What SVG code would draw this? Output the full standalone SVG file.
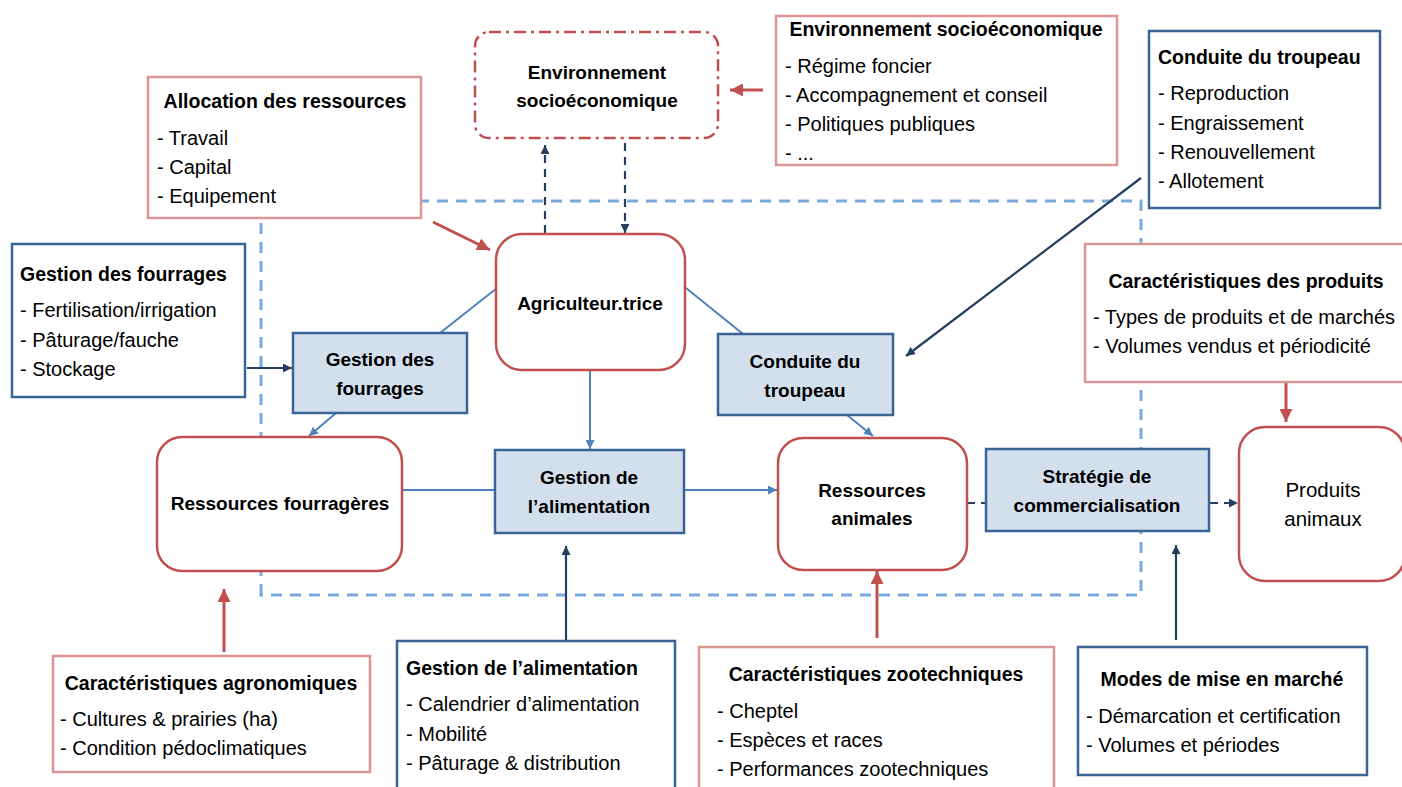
<svg xmlns="http://www.w3.org/2000/svg" width="1402" height="787" viewBox="0 0 1402 787">
<style>
.t{font-family:"Liberation Sans",Arial,sans-serif;fill:#000}
.ti{font-size:19.5px;font-weight:bold}
.it{font-size:20px}
.nl{font-size:19px;font-weight:bold;text-anchor:middle}
.infoR{fill:#fff;stroke:#d99694;stroke-width:2.5}
.infoB{fill:#fff;stroke:#3a6496;stroke-width:2.5}
.res{fill:#fff;stroke:#c0504d;stroke-width:2.5}
.proc{fill:#d3dfed;stroke:#3a6496;stroke-width:2.5}
.bl{stroke:#4f81bd;stroke-width:2;fill:none}
.nv{stroke:#243f60;stroke-width:2.2;fill:none}
.rd{stroke:#c0504d;stroke-width:3;fill:none}
</style>
<defs>
<marker id="ab" viewBox="0 0 10 10" refX="10" refY="5" markerWidth="9" markerHeight="9" markerUnits="userSpaceOnUse" orient="auto"><path d="M0,0 L10,5 L0,10 z" fill="#4f81bd"/></marker>
<marker id="an" viewBox="0 0 10 10" refX="10" refY="5" markerWidth="9" markerHeight="9" markerUnits="userSpaceOnUse" orient="auto"><path d="M0,0 L10,5 L0,10 z" fill="#243f60"/></marker>
<marker id="ar" viewBox="0 0 10 10" refX="10" refY="5" markerWidth="13" markerHeight="13" markerUnits="userSpaceOnUse" orient="auto"><path d="M0,0 L10,5 L0,10 z" fill="#c0504d"/></marker>
</defs>
<rect width="1402" height="787" fill="#fff"/>

<g id="boundary">
<path d="M261,595 L261,201 L1141,201 L1141,595 Z" fill="none" stroke="#7aaadc" stroke-width="3" stroke-dasharray="11,8"/>
</g>

<g id="connectors">
<line class="bl" x1="497" y1="288" x2="440" y2="333"/>
<line class="bl" x1="686" y1="288" x2="743" y2="334"/>
<line class="bl" x1="336" y1="413" x2="309" y2="436" marker-end="url(#ab)"/>
<line class="bl" x1="590" y1="371" x2="590" y2="449" marker-end="url(#ab)"/>
<line class="bl" x1="402" y1="490" x2="495" y2="490"/>
<line class="bl" x1="684" y1="490" x2="777" y2="490" marker-end="url(#ab)"/>
<line class="bl" x1="847" y1="415" x2="873" y2="436" marker-end="url(#ab)"/>
<line class="nv" x1="247" y1="368" x2="292" y2="368" marker-end="url(#an)"/>
<line class="nv" x1="1141" y1="178" x2="906" y2="356" marker-end="url(#an)"/>
<line class="nv" x1="566" y1="640" x2="566" y2="546" marker-end="url(#an)"/>
<line class="nv" x1="1176" y1="640" x2="1176" y2="545" marker-end="url(#an)"/>
<line class="nv" x1="545" y1="233" x2="545" y2="145" stroke-dasharray="8,6" marker-end="url(#an)"/>
<line class="nv" x1="625" y1="143" x2="625" y2="233" stroke-dasharray="8,6" marker-end="url(#an)"/>
<line class="nv" x1="967" y1="503" x2="986" y2="503" stroke-dasharray="8,6"/>
<line class="nv" x1="1210" y1="503" x2="1238" y2="503" stroke-dasharray="8,6" marker-end="url(#an)"/>
<line class="rd" x1="433" y1="222" x2="490" y2="250" marker-end="url(#ar)"/>
<line class="rd" x1="763" y1="90" x2="730" y2="90" marker-end="url(#ar)"/>
<line class="rd" x1="224" y1="652" x2="224" y2="589" marker-end="url(#ar)"/>
<line class="rd" x1="877" y1="638" x2="877" y2="571" marker-end="url(#ar)"/>
<line class="rd" x1="1286" y1="383" x2="1286" y2="422" marker-end="url(#ar)"/>
</g>

<g id="env-node">
<rect x="475" y="32" width="243" height="106" rx="14" fill="#fff" stroke="#c0504d" stroke-width="2.5" stroke-dasharray="12,5,3,5"/>
<text class="t nl" x="597" y="79">Environnement</text>
<text class="t nl" x="597" y="107">socioéconomique</text>
</g>

<g id="allocation-info">
<rect class="infoR" x="148" y="77" width="273" height="141"/>
<text class="t ti" x="285" y="108" text-anchor="middle">Allocation des ressources</text>
<text class="t it" x="157" y="145">- Travail</text>
<text class="t it" x="157" y="174">- Capital</text>
<text class="t it" x="157" y="203">- Equipement</text>
</g>

<g id="env-info">
<rect class="infoR" x="776" y="16" width="341" height="149"/>
<text class="t ti" x="946" y="36" text-anchor="middle">Environnement socioéconomique</text>
<text class="t it" x="785" y="73">- Régime foncier</text>
<text class="t it" x="785" y="102">- Accompagnement et conseil</text>
<text class="t it" x="785" y="131">- Politiques publiques</text>
<text class="t it" x="785" y="160">- ...</text>
</g>

<g id="troupeau-info">
<rect class="infoB" x="1149" y="31" width="231" height="177"/>
<text class="t ti" x="1158" y="64">Conduite du troupeau</text>
<text class="t it" x="1158" y="100">- Reproduction</text>
<text class="t it" x="1158" y="130">- Engraissement</text>
<text class="t it" x="1158" y="159">- Renouvellement</text>
<text class="t it" x="1158" y="188">- Allotement</text>
</g>

<g id="fourrages-info">
<rect class="infoB" x="12" y="244" width="233" height="153"/>
<text class="t ti" x="20" y="281">Gestion des fourrages</text>
<text class="t it" x="20" y="317">- Fertilisation/irrigation</text>
<text class="t it" x="20" y="347">- Pâturage/fauche</text>
<text class="t it" x="20" y="376">- Stockage</text>
</g>

<g id="produits-info">
<rect class="infoR" x="1085" y="244" width="322" height="138"/>
<text class="t ti" x="1246" y="288" text-anchor="middle">Caractéristiques des produits</text>
<text class="t it" x="1093" y="324">- Types de produits et de marchés</text>
<text class="t it" x="1093" y="353">- Volumes vendus et périodicité</text>
</g>

<g id="agriculteur">
<rect class="res" x="496" y="234" width="189" height="136" rx="26"/>
<text class="t nl" x="590" y="310">Agriculteur.trice</text>
</g>

<g id="gestion-fourrages">
<rect class="proc" x="293" y="333" width="174" height="80"/>
<text class="t nl" x="380" y="366">Gestion des</text>
<text class="t nl" x="380" y="395">fourrages</text>
</g>

<g id="conduite-troupeau">
<rect class="proc" x="718" y="334" width="175" height="81"/>
<text class="t nl" x="805" y="368">Conduite du</text>
<text class="t nl" x="805" y="397">troupeau</text>
</g>

<g id="ressources-fourrageres">
<rect class="res" x="157" y="437" width="245" height="134" rx="25"/>
<text class="t nl" x="280" y="510">Ressources fourragères</text>
</g>

<g id="gestion-alimentation">
<rect class="proc" x="495" y="450" width="189" height="83"/>
<text class="t nl" x="589" y="484">Gestion de</text>
<text class="t nl" x="589" y="513">l’alimentation</text>
</g>

<g id="ressources-animales">
<rect class="res" x="778" y="438" width="189" height="132" rx="25"/>
<text class="t nl" x="872" y="497">Ressources</text>
<text class="t nl" x="872" y="525">animales</text>
</g>

<g id="strategie">
<rect class="proc" x="986" y="449" width="223" height="82"/>
<text class="t nl" x="1097" y="483">Stratégie de</text>
<text class="t nl" x="1097" y="512">commercialisation</text>
</g>

<g id="produits-animaux">
<rect class="res" x="1239" y="427" width="166" height="154" rx="26"/>
<text class="t" x="1323" y="497" font-size="20.5" text-anchor="middle">Produits</text>
<text class="t" x="1323" y="526" font-size="20.5" text-anchor="middle">animaux</text>
</g>

<g id="agronomiques-info">
<rect class="infoR" x="53" y="656" width="317" height="116"/>
<text class="t ti" x="211" y="690" text-anchor="middle">Caractéristiques agronomiques</text>
<text class="t it" x="60" y="726">- Cultures &amp; prairies (ha)</text>
<text class="t it" x="60" y="755">- Condition pédoclimatiques</text>
</g>

<g id="alimentation-info">
<rect class="infoB" x="397" y="641" width="278" height="160"/>
<text class="t ti" x="406" y="675">Gestion de l’alimentation</text>
<text class="t it" x="406" y="711">- Calendrier d’alimentation</text>
<text class="t it" x="406" y="741">- Mobilité</text>
<text class="t it" x="406" y="770">- Pâturage &amp; distribution</text>
</g>

<g id="zootechniques-info">
<rect class="infoR" x="699" y="647" width="355" height="154"/>
<text class="t ti" x="876" y="681" text-anchor="middle">Caractéristiques zootechniques</text>
<text class="t it" x="717" y="718">- Cheptel</text>
<text class="t it" x="717" y="747">- Espèces et races</text>
<text class="t it" x="717" y="776">- Performances zootechniques</text>
</g>

<g id="marche-info">
<rect class="infoB" x="1078" y="647" width="289" height="128"/>
<text class="t ti" x="1222" y="686" text-anchor="middle">Modes de mise en marché</text>
<text class="t it" x="1086" y="723">- Démarcation et certification</text>
<text class="t it" x="1086" y="752">- Volumes et périodes</text>
</g>
</svg>
